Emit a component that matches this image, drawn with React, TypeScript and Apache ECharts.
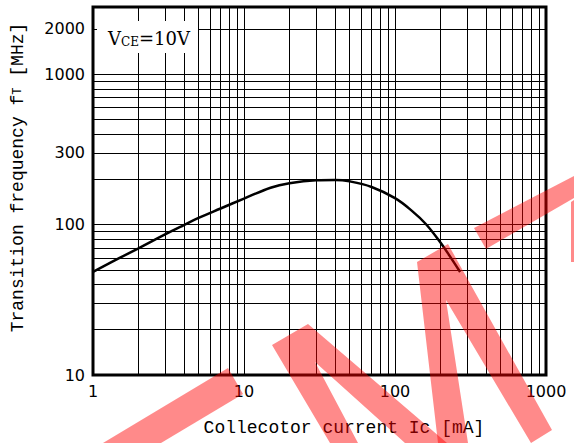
import React, { useEffect, useRef } from 'react';
import * as echarts from 'echarts';

// Collector current Ic [mA] and transition frequency fT [MHz] (VCE = 10 V)
const collectorCurrent = [1, 1.5, 2, 3, 4, 5, 7, 10, 15, 20, 30, 40, 50, 70, 100, 130, 160, 200, 230, 270];
const transitionFreq = [48.5, 60, 69.5, 86, 99.3, 110.7, 128, 149, 176, 188.5, 197, 198, 194, 178, 150, 123, 101, 76, 62, 48.4];

const xTickLabels = [1, 10, 100, 1000];
const yTickLabels = [10, 100, 1000];
const xMinorLines = [2, 3, 4, 5, 6, 7, 8, 9, 20, 30, 40, 50, 60, 70, 80, 90, 200, 300, 400, 500, 600, 700, 800, 900];
const yMinorLines = [20, 30, 40, 50, 60, 70, 80, 90, 200, 300, 400, 500, 600, 700, 800, 900, 2000];
const yExtraLabels = [300, 2000];

const WM = 'rgba(255,0,0,0.46)';
const watermark = [
  [[103, 443], [228, 368], [243, 394], [161, 443]],
  [[330, 443], [272, 345], [308, 324], [447, 443], [405, 443], [315, 362], [358, 443]],
  [[438, 443], [417, 262], [448, 244], [552, 430], [531, 443], [446, 300], [468, 443]],
  [[474, 228], [486, 249], [574, 198], [574, 176]],
  [[571, 202], [574, 200], [574, 262], [571, 262]],
];

export default function App() {
  const ref = useRef<HTMLDivElement>(null);
  useEffect(() => {
    const chart = echarts.init(ref.current!, null, { renderer: 'svg' });
    const labelFont = { fontFamily: 'DejaVu Sans', fontSize: 16, color: '#000' };
    const titleFont = { fontFamily: 'Liberation Mono', fontSize: 18, color: '#000' };
    const data = collectorCurrent.map((x, i) => [x, transitionFreq[i]]);
    const markData: any[] = [
      ...xMinorLines.map((v) => ({ xAxis: v })),
      ...yMinorLines.map((v) => ({
        yAxis: v,
        label: yExtraLabels.includes(v)
          ? { show: true, position: 'start', formatter: String(v), distance: 8, ...labelFont }
          : { show: false },
      })),
    ];
    chart.setOption({
      animation: false,
      grid: { left: 93, right: 28, top: 7, bottom: 68, show: true, borderColor: '#000', borderWidth: 3 },
      xAxis: {
        type: 'log',
        logBase: 10,
        min: 1,
        max: 1000,
        axisLine: { show: false },
        axisTick: { show: false },
        axisLabel: {
          margin: 8,
          ...labelFont,
          formatter: (v: number) => (xTickLabels.includes(Math.round(v)) ? String(Math.round(v)) : ''),
        },
        splitLine: { show: true, lineStyle: { color: '#000', width: 1 } },
        name: 'Collecotor current Ic [mA]',
        nameLocation: 'middle',
        nameGap: 44,
        nameTextStyle: { ...titleFont, padding: [0, 0, 0, 49] },
      },
      yAxis: {
        type: 'log',
        logBase: 10,
        min: 10,
        max: 2800,
        axisLine: { show: false },
        axisTick: { show: false },
        axisLabel: {
          margin: 8,
          ...labelFont,
          formatter: (v: number) => (yTickLabels.includes(Math.round(v)) ? String(Math.round(v)) : ''),
        },
        splitLine: { show: true, lineStyle: { color: '#000', width: 1 } },
        name: 'Transition frequency f{s|T} [MHz]',
        nameLocation: 'middle',
        nameGap: 66,
        nameTextStyle: { ...titleFont, padding: [0, 0, 0, 27], rich: { s: { fontFamily: 'Liberation Mono', fontSize: 12, color: '#000' } } },
      },
      series: [
        {
          type: 'line',
          data,
          z: 1,
          symbol: 'none',
          silent: true,
          lineStyle: { opacity: 0 },
          markLine: {
            silent: true,
            symbol: ['none', 'none'],
            label: { show: false },
            lineStyle: { color: '#000', width: 1, type: 'solid' },
            emphasis: { disabled: true },
            data: markData,
          },
        },
        {
          type: 'line',
          data,
          z: 5,
          smooth: 0.4,
          symbol: 'none',
          silent: true,
          lineStyle: { color: '#000', width: 2.5 },
        },
      ],
      graphic: [
        { type: 'rect', z: 50, shape: { x: 97, y: 21, width: 101, height: 32 }, style: { fill: '#fff' } },
        {
          type: 'text',
          z: 51,
          x: 108,
          y: 38,
          style: {
            text: '{a|V}{b|CE}{a|=10V}',
            verticalAlign: 'middle',
            rich: {
              a: { fontFamily: 'DejaVu Serif', fontSize: 18, lineHeight: 20, fill: '#000' },
              b: { fontFamily: 'DejaVu Serif', fontSize: 12, lineHeight: 14, verticalAlign: 'bottom', fill: '#000' },
            },
          },
        },
        ...watermark.map((pts) => ({
          type: 'polygon',
          z: 100,
          silent: true,
          shape: { points: pts },
          style: { fill: WM },
        })),
      ],
    });
    return () => chart.dispose();
  }, []);
  return <div ref={ref} style={{ position: 'fixed', left: 0, top: 0, width: 574, height: 443, background: '#fff' }} />;
}
